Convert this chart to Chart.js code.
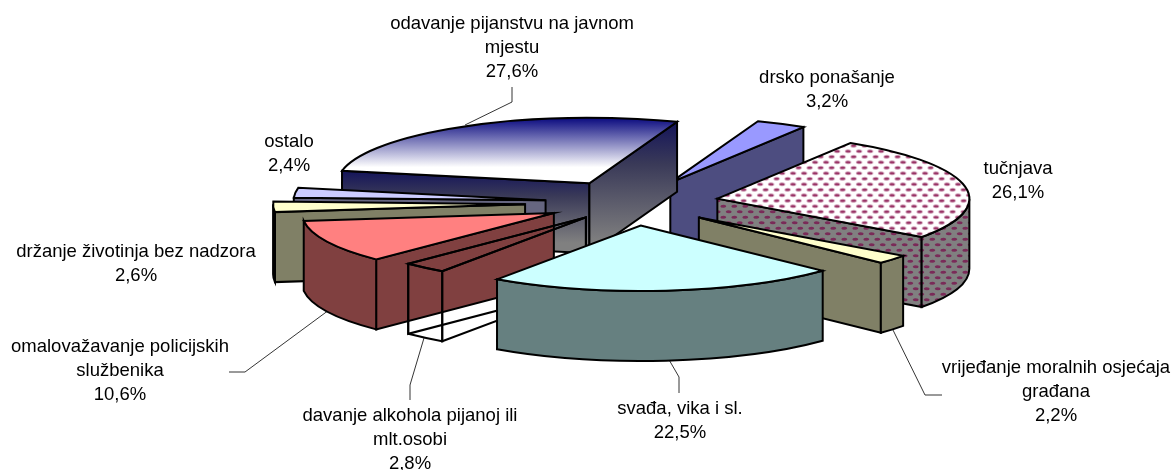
<!DOCTYPE html>
<html>
<head>
<meta charset="utf-8">
<script src="https://cdn.jsdelivr.net/npm/chart.js@4"></script>
<style>html,body{margin:0;padding:0;background:#fff}canvas{display:block}</style>
</head>
<body>
<canvas id="c" width="1174" height="470"></canvas>
<script>
const categories = ["odavanje pijanstvu na javnom mjestu","drsko ponašanje","tučnjava","vrijeđanje moralnih osjećaja građana","svađa, vika i sl.","davanje alkohola pijanoj ili mlt.osobi","omalovažavanje policijskih službenika","držanje životinja bez nadzora","ostalo"];
const shares = [27.6,3.2,26.1,2.2,22.5,2.8,10.6,2.6,2.4];
const labelLines = [["odavanje pijanstvu na javnom","mjestu"],["drsko ponašanje"],["tučnjava"],["vrijeđanje moralnih osjećaja","građana"],["svađa, vika i sl."],["davanje alkohola pijanoj ili","mlt.osobi"],["omalovažavanje policijskih","službenika"],["držanje životinja bez nadzora"],["ostalo"]];

// layout / style
const W = 1174, H = 470;
const CX = 632, CY = 203, K = 0.26, R = 252, DEPTH = 70;
const explodePx = [87,87,87,87,87,72,87,107,87];
const labelPos = [[512,29],[827,83],[1018,174],[1056,373],[680,414],[410,421],[120,352],[136,257],[289,147]];
const leaders = [
  [[465,125],[512,102],[512,87]],
  null,
  null,
  [[892,328],[925,395],[942,395]],
  [[668,358],[679,377],[679,393]],
  [[424,338],[410,385],[410,400]],
  [[329,310],[245,372],[229,372]],
  null,
  null
];
const drawOrder = [1,0,2,8,7,6,3,5,4];

const cv = document.getElementById('c');
const g = cv.getContext('2d');
const dyFlat = CY - K * H / 2;
const toFlatY = y => (y - dyFlat) / K;

function dotPattern(bg, dot) {
  const t = document.createElement('canvas');
  t.width = 11; t.height = 11;
  const c = t.getContext('2d');
  c.fillStyle = bg; c.fillRect(0,0,11,11);
  c.fillStyle = dot;
  [[2.75,2.75],[8.25,8.25],[-2.75,8.25],[13.75,2.75]].forEach(p => {
    c.beginPath(); c.ellipse(p[0],p[1],2.9,1.5,0,0,Math.PI*2); c.fill();
  });
  return g.createPattern(t,'repeat');
}
const topPattern = dotPattern('#ffffff','#993366');
topPattern.setTransform(new DOMMatrix().scale(1,1/K));
const sidePattern = dotPattern('#808080','#7a2a58');

// the gradient is read in the slice's own moved frame, 20px above its place on screen
const topGrad = g.createLinearGradient(0,toFlatY(138),0,toFlatY(187));
topGrad.addColorStop(0,'#0c0c80');
topGrad.addColorStop(1,'#ffffff');

const topColors = [topGrad,'#9999ff',topPattern,'#ffffcc','#ccffff','rgba(255,255,255,0)','#ff8080','#ffffcc','#ccccff'];
const sideColors = ['grad','#4d4d80',sidePattern,'#808066','#668080',null,'#804040','#808066','#666680'];

function facePath(ctx, build) {
  ctx.save();
  ctx.translate(CX - W/2, dyFlat);
  ctx.scale(1,K);
  ctx.beginPath();
  build(ctx);
  ctx.closePath();
  ctx.restore();
}
function paint(ctx, fill) {
  if (fill) { ctx.fillStyle = fill; ctx.fill(); }
  ctx.lineWidth = 2; ctx.strokeStyle = '#000'; ctx.lineJoin='miter'; ctx.stroke();
}
function wallGrad(ctx, y0, y1) {
  const gr = ctx.createLinearGradient(0,y0,0,y1);
  gr.addColorStop(0,'#14145a');
  gr.addColorStop(0.35,'#3a3a58');
  gr.addColorStop(1,'#808080');
  return gr;
}

const pie3d = {
  id:'pie3d',
  beforeDatasetsDraw(chart){
    const ctx = chart.ctx;
    // leader lines
    ctx.save();
    ctx.strokeStyle='#000'; ctx.lineWidth=0.8;
    leaders.forEach(l=>{ if(!l) return; ctx.beginPath(); l.forEach((p,i)=>i?ctx.lineTo(p[0],p[1]):ctx.moveTo(p[0],p[1])); ctx.stroke(); });
    ctx.restore();

    const arcs = chart.getDatasetMeta(0).data;
    const dFlat = DEPTH / K;
    drawOrder.forEach(i=>{
      const a = arcs[i];
      const s = a.startAngle, e = a.endAngle, r = a.outerRadius, mid=(s+e)/2;
      const ox = Math.cos(mid)*explodePx[i], oy = Math.sin(mid)*explodePx[i];
      const ax = a.x + ox, ay = a.y + oy;
      const side = sideColors[i];
      const edge = (ang, facing)=>{
        if (side && !facing) return;
        const ex = ax+Math.cos(ang)*r, ey = ay+Math.sin(ang)*r;
        facePath(ctx,c=>{ c.moveTo(ax,ay); c.lineTo(ex,ey); c.lineTo(ex,ey+dFlat); c.lineTo(ax,ay+dFlat); });
        let fill = side;
        if (side==='grad') {
          const sy = dyFlat + K*ey, ay0 = dyFlat + K*ay;
          fill = wallGrad(ctx, Math.min(sy,ay0), Math.max(sy,ay0)+DEPTH*0.85);
        }
        paint(ctx,fill);
      };
      edge(s, -Math.cos(s) > 0);
      edge(e, Math.cos(e) > 0);
      // outer wall, only the part facing the viewer
      const TAU=Math.PI*2;
      for (let n=-1;n<=2;n++){
        const lo=Math.max(s,n*TAU), hi=Math.min(e,n*TAU+Math.PI);
        if (hi>lo){
          facePath(ctx,c=>{ c.arc(ax,ay,r,lo,hi); c.arc(ax,ay+dFlat,r,hi,lo,true); });
          paint(ctx, side==='grad'?wallGrad(ctx,CY,CY+DEPTH):side);
        }
      }
      // top face drawn by the library's own arc element
      ctx.save();
      ctx.translate(CX - W/2, dyFlat);
      ctx.scale(1,K);
      ctx.translate(ox,oy);
      a.draw(ctx);
      ctx.restore();
      facePath(ctx,c=>{ c.moveTo(ax,ay); c.arc(ax,ay,r,s,e); });
      paint(ctx,null);
    });
    return false;
  },
  afterDraw(chart){
    const ctx=chart.ctx;
    ctx.save();
    ctx.font='18.5px "Liberation Sans", Arial, sans-serif';
    ctx.fillStyle='#000'; ctx.textAlign='center'; ctx.textBaseline='alphabetic';
    labelLines.forEach((lines,i)=>{
      const [x,y]=labelPos[i];
      const all=lines.concat([shares[i].toFixed(1).replace('.',',')+'%']);
      all.forEach((t,j)=>ctx.fillText(t,x,y+j*24));
    });
    ctx.restore();
  }
};

new Chart(cv,{
  type:'pie',
  data:{labels:categories,datasets:[{data:shares,backgroundColor:topColors,borderWidth:0}]},
  options:{
    responsive:false,animation:false,rotation:281,radius:R,
    layout:{padding:0},
    plugins:{legend:{display:false},tooltip:{enabled:false}}
  },
  plugins:[pie3d]
});
</script>
</body>
</html>
